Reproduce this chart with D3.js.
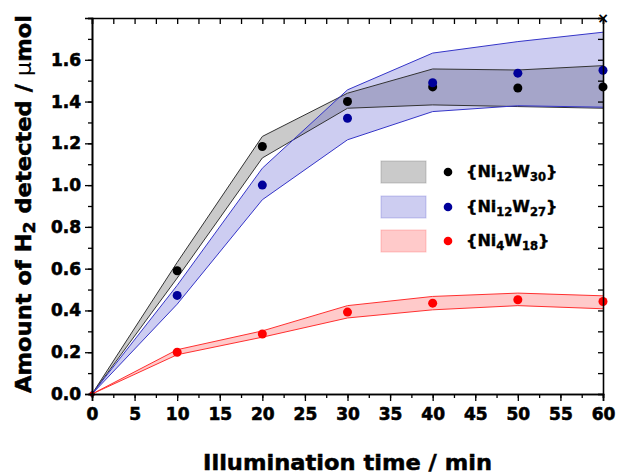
<!DOCTYPE html>
<html>
<head>
<meta charset="utf-8">
<script src="https://cdn.jsdelivr.net/npm/d3@7.9.0/dist/d3.min.js"></script>
<style>
  body { margin: 0; background: #fff; }
  svg { display: block; }
  text { font-family: "DejaVu Sans", sans-serif; font-weight: bold; fill: #000; }
</style>
</head>
<body>
<svg id="chart" width="618" height="475"></svg>
<script>
// illumination times (min)
const times = [0, 10, 20, 30, 40, 50, 60];

// {Ni12W30}
const ni12w30Points = [0, 0.59, 1.185, 1.40, 1.47, 1.465, 1.47];
const ni12w30Upper  = [0, 0.63, 1.233, 1.44, 1.556, 1.551, 1.572];
const ni12w30Lower  = [0, 0.555, 1.13, 1.368, 1.384, 1.376, 1.368];

// {Ni12W27}
const ni12w27Points = [0, 0.472, 1.0, 1.32, 1.49, 1.536, 1.55];
const ni12w27Upper  = [0, 0.52, 1.081, 1.456, 1.632, 1.687, 1.732];
const ni12w27Lower  = [0, 0.43, 0.93, 1.217, 1.352, 1.38, 1.373];

// {Ni4W18}
const ni4w18Points = [0, 0.2, 0.287, 0.392, 0.435, 0.451, 0.443];
const ni4w18Upper  = [0, 0.212, 0.302, 0.423, 0.467, 0.483, 0.47];
const ni4w18Lower  = [0, 0.188, 0.272, 0.364, 0.403, 0.423, 0.408];

const xTicks = [0, 5, 10, 15, 20, 25, 30, 35, 40, 45, 50, 55, 60];
const yTicks = [0, 0.2, 0.4, 0.6, 0.8, 1.0, 1.2, 1.4, 1.6];

const series = [
  { name: "Ni12W30", main: "Ni", s1: "12", mid: "W", s2: "30", pts: ni12w30Points, up: ni12w30Upper, lo: ni12w30Lower,
    fill: "rgba(128,128,128,0.42)", stroke: "#333", dot: "#000" },
  { name: "Ni12W27", main: "Ni", s1: "12", mid: "W", s2: "27", pts: ni12w27Points, up: ni12w27Upper, lo: ni12w27Lower,
    fill: "rgba(60,60,200,0.26)", stroke: "#3535c8", dot: "#00009a" },
  { name: "Ni4W18", main: "Ni", s1: "4", mid: "W", s2: "18", pts: ni4w18Points, up: ni4w18Upper, lo: ni4w18Lower,
    fill: "rgba(255,80,80,0.3)", stroke: "#ff3030", dot: "#ff0000" }
];

const W = 618, H = 475;
const margin = { top: 18, right: 15, bottom: 81, left: 92 };
const iw = W - margin.left - margin.right;
const ih = H - margin.top - margin.bottom;

const svg = d3.select("#chart");
const g = svg.append("g").attr("transform", `translate(${margin.left},${margin.top})`);

const x = d3.scaleLinear().domain([0, 60]).range([0, iw]);
const y = d3.scaleLinear().domain([0, 1.8]).range([ih, 0]);

// bands
const area = d3.area()
  .x((d, i) => x(times[i]))
  .y0((d, i) => y(d.lo))
  .y1((d, i) => y(d.up));

const bandData = s => times.map((t, i) => ({ up: s.up[i], lo: s.lo[i] }));

series.forEach(s => {
  g.append("path").attr("d", area(bandData(s))).attr("fill", s.fill).attr("stroke", "none");
});

const line = d3.line().x((d, i) => x(times[i])).y(d => y(d));
series.forEach(s => {
  g.append("path").attr("d", line(s.up)).attr("fill", "none").attr("stroke", s.stroke).attr("stroke-width", 1);
  g.append("path").attr("d", line(s.lo)).attr("fill", "none").attr("stroke", s.stroke).attr("stroke-width", 1);
});

// points
series.forEach(s => {
  g.selectAll(null).data(s.pts).enter().append("circle")
    .attr("cx", (d, i) => x(times[i]))
    .attr("cy", d => y(d))
    .attr("r", (d, i) => i === 0 ? 2.5 : 4.5)
    .attr("fill", s.dot);
});

// axes
const minorX = d3.range(0, 60.01, 2.5);
const minorY = d3.range(0, 1.81, 0.1);

const bottom = g.append("g").attr("transform", `translate(0,${ih})`)
  .call(d3.axisBottom(x).tickValues(xTicks).tickSize(7).tickPadding(7).tickFormat(d3.format("d")));
g.append("g").attr("transform", `translate(0,${ih})`)
  .call(d3.axisBottom(x).tickValues(minorX).tickSize(4).tickFormat(""));

const left = g.append("g")
  .call(d3.axisLeft(y).tickValues(yTicks).tickSize(7).tickPadding(4).tickFormat(d3.format(".1f")));
g.append("g").call(d3.axisLeft(y).tickValues(minorY).tickSize(4).tickFormat(""));

g.append("g").call(d3.axisTop(x).tickValues(minorX).tickSize(-6).tickFormat(""));
g.append("g").attr("transform", `translate(${iw},0)`)
  .call(d3.axisRight(y).tickValues(minorY).tickSize(-5).tickFormat(""));

g.selectAll(".domain").attr("stroke", "#000").attr("stroke-width", 1.6);
g.selectAll(".tick line").attr("stroke", "#000").attr("stroke-width", 1.3);
[bottom, left].forEach(ax => ax.selectAll("text")
  .style("font-size", "17px").style("font-family", "DejaVu Sans").style("font-weight", "bold")
  .attr("stroke", "#000").attr("stroke-width", 0.6));

// corner mark
svg.append("text").attr("x", margin.left + iw).attr("y", margin.top + 5)
  .attr("text-anchor", "middle").style("font-size", "14px").text("×");

// axis titles
svg.append("text")
  .attr("x", 203).attr("y", 470)
  .attr("textLength", 289).attr("lengthAdjust", "spacingAndGlyphs")
  .attr("stroke", "#000").attr("stroke-width", 0.5)
  .style("font-size", "22px")
  .text("Illumination time / min");

const yt = svg.append("text")
  .attr("transform", "translate(31,393) rotate(-90)")
  .attr("textLength", 378).attr("lengthAdjust", "spacingAndGlyphs")
  .attr("stroke", "#000").attr("stroke-width", 0.5)
  .style("font-size", "21px");
yt.append("tspan").text("Amount of H");
yt.append("tspan").attr("dy", 4).style("font-size", "16px").text("2");
yt.append("tspan").attr("dy", -4).text(" detected / ");
yt.append("tspan").style("font-weight", "normal").attr("stroke-width", 0).text("μ");
yt.append("tspan").text("mol");

// legend
const legend = svg.append("g");
const rowY = [172, 207, 241];
series.forEach((s, i) => {
  const cy = rowY[i];
  legend.append("rect").attr("x", 381).attr("y", cy - 11).attr("width", 45).attr("height", 22)
    .attr("fill", s.fill).attr("stroke", s.fill);
  legend.append("circle").attr("cx", 448).attr("cy", cy).attr("r", 4.3).attr("fill", s.dot);
  const t = legend.append("text").attr("x", 466).attr("y", cy + 5).style("font-size", "16px")
    .attr("stroke", "#000").attr("stroke-width", 0.4);
  t.append("tspan").text("{" + s.main);
  t.append("tspan").attr("dy", 4).style("font-size", "11.5px").text(s.s1);
  t.append("tspan").attr("dy", -4).text(s.mid);
  t.append("tspan").attr("dy", 4).style("font-size", "11.5px").text(s.s2);
  t.append("tspan").attr("dy", -4).text("}");
});
</script>
</body>
</html>
